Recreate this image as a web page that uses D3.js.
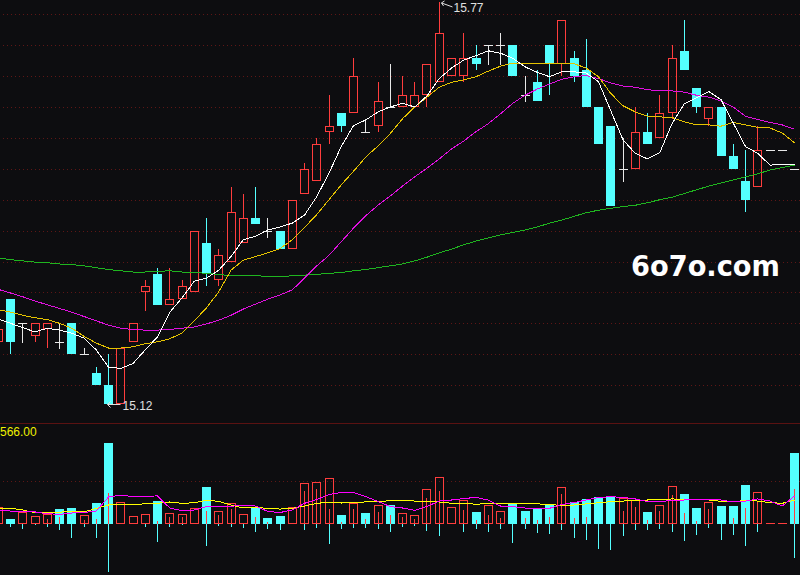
<!DOCTYPE html>
<html><head><meta charset="utf-8">
<script src="https://cdn.jsdelivr.net/npm/d3@7"></script>
<style>html,body{margin:0;padding:0;background:#0d0d10;overflow:hidden}</style>
</head><body><svg id="c" width="800" height="575"></svg>
<script>
// index 0 = partially visible candle at the left edge
const opens=[15.22,15.29,15.25,15.23,15.24,15.22,15.25,15.20,15.17,15.15,15.12,15.22,15.30,15.33,15.28,15.29,15.30,15.38,15.32,15.35,15.38,15.42,15.40,15.40,15.37,15.46,15.48,15.56,15.59,15.59,15.56,15.57,15.60,15.60,15.60,15.62,15.64,15.65,15.65,15.68,15.70,15.70,15.70,15.62,15.64,15.70,15.67,15.68,15.66,15.60,15.57,15.50,15.50,15.56,15.55,15.59,15.69,15.63,15.58,15.60,15.52,15.48,15.47,15.53,15.53,15.50];
const highs=[15.25,15.29,15.25,15.25,15.25,15.25,15.25,15.21,15.18,15.20,15.21,15.25,15.32,15.34,15.34,15.32,15.40,15.42,15.37,15.47,15.46,15.47,15.42,15.40,15.45,15.51,15.55,15.62,15.59,15.68,15.58,15.64,15.67,15.65,15.64,15.67,15.77,15.68,15.72,15.70,15.70,15.72,15.70,15.65,15.66,15.70,15.74,15.69,15.71,15.60,15.57,15.55,15.60,15.59,15.62,15.70,15.74,15.63,15.60,15.60,15.54,15.53,15.57,15.53,15.53,15.50];
const lows=[15.21,15.20,15.22,15.22,15.21,15.21,15.20,15.20,15.15,15.12,15.12,15.22,15.27,15.28,15.28,15.29,15.30,15.31,15.31,15.35,15.38,15.41,15.39,15.37,15.37,15.46,15.48,15.54,15.56,15.59,15.56,15.56,15.60,15.60,15.60,15.60,15.64,15.65,15.64,15.66,15.67,15.67,15.65,15.61,15.61,15.62,15.65,15.64,15.60,15.54,15.44,15.48,15.50,15.54,15.55,15.58,15.66,15.59,15.57,15.52,15.50,15.43,15.47,15.53,15.53,15.50];
const closes=[15.24,15.22,15.25,15.25,15.25,15.22,15.20,15.20,15.15,15.12,15.21,15.25,15.31,15.28,15.29,15.31,15.40,15.33,15.36,15.43,15.42,15.41,15.40,15.37,15.45,15.50,15.54,15.57,15.57,15.65,15.56,15.61,15.60,15.62,15.62,15.67,15.72,15.68,15.68,15.67,15.70,15.70,15.65,15.62,15.61,15.67,15.74,15.65,15.60,15.54,15.44,15.50,15.56,15.54,15.59,15.68,15.66,15.60,15.60,15.52,15.50,15.45,15.53,15.53,15.53,15.50];
const ma5=[15.257,15.250,15.243,15.236,15.242,15.239,15.234,15.226,15.207,15.179,15.177,15.185,15.207,15.228,15.268,15.291,15.318,15.323,15.336,15.358,15.385,15.391,15.401,15.406,15.412,15.425,15.455,15.493,15.536,15.570,15.579,15.592,15.600,15.606,15.600,15.618,15.646,15.663,15.676,15.683,15.691,15.687,15.679,15.665,15.656,15.649,15.657,15.657,15.655,15.641,15.594,15.547,15.525,15.516,15.526,15.573,15.605,15.615,15.625,15.612,15.574,15.536,15.525,15.506,15.507,15.507];
const ma10=[15.272,15.268,15.263,15.259,15.256,15.250,15.242,15.229,15.218,15.210,15.210,15.212,15.217,15.220,15.225,15.234,15.254,15.275,15.301,15.336,15.352,15.358,15.364,15.371,15.385,15.405,15.426,15.450,15.474,15.496,15.519,15.537,15.557,15.581,15.600,15.616,15.632,15.640,15.644,15.649,15.658,15.666,15.671,15.671,15.670,15.670,15.671,15.670,15.663,15.649,15.622,15.602,15.592,15.585,15.584,15.583,15.576,15.571,15.571,15.569,15.575,15.571,15.567,15.566,15.558,15.542];
const ma20=[15.305,15.299,15.293,15.286,15.280,15.274,15.268,15.261,15.254,15.247,15.242,15.240,15.239,15.239,15.240,15.242,15.244,15.249,15.255,15.263,15.273,15.281,15.289,15.296,15.304,15.323,15.343,15.360,15.382,15.404,15.424,15.441,15.456,15.472,15.487,15.501,15.516,15.532,15.545,15.560,15.573,15.589,15.606,15.619,15.629,15.637,15.645,15.649,15.651,15.646,15.639,15.634,15.632,15.628,15.626,15.626,15.624,15.619,15.616,15.610,15.600,15.585,15.580,15.575,15.571,15.564];
const ma60=[15.356,15.353,15.351,15.349,15.348,15.346,15.345,15.343,15.340,15.337,15.335,15.333,15.333,15.334,15.335,15.333,15.332,15.331,15.329,15.327,15.327,15.327,15.326,15.325,15.327,15.328,15.329,15.331,15.332,15.335,15.337,15.340,15.343,15.346,15.351,15.357,15.364,15.370,15.377,15.383,15.388,15.393,15.397,15.401,15.406,15.412,15.417,15.423,15.429,15.433,15.436,15.439,15.441,15.445,15.450,15.454,15.460,15.466,15.472,15.477,15.482,15.487,15.492,15.498,15.502,15.506];
const vols=[109,29,76,49,62,95,104,56,137,535,142,49,62,150,69,62,102,243,82,135,62,109,36,51,109,270,276,301,58,135,71,122,122,69,56,228,309,109,157,78,122,82,131,84,102,126,241,144,164,177,184,172,157,78,122,248,197,104,142,117,117,256,208,0,0,469];
const volUp=[0,0,0,0,29,46,0,25,31,205,0,0,0,18,46,42,0,84,58,97,0,42,11,0,0,217,230,100,11,97,31,78,58,42,31,170,217,0,91,25,58,38,0,38,25,44,197,40,44,0,0,84,109,25,84,188,71,16,97,0,38,104,144,0,0,230];
const volDown=[0,20,33,7,20,42,93,20,93,318,0,0,20,119,24,7,0,146,15,24,30,53,37,42,0,42,27,135,35,27,27,35,55,20,15,48,82,0,55,35,55,35,128,35,60,66,42,93,106,166,172,80,40,40,33,53,113,73,27,106,73,146,53,0,0,225];
const volMa5=[86,84,82,78,66,62,71,74,84,177,190,179,182,184,104,86,91,114,111,115,123,117,81,74,91,135,160,194,207,207,180,147,114,104,89,114,150,157,167,174,157,117,113,104,102,102,127,140,157,174,179,174,164,147,144,157,157,160,162,157,144,150,164,150,117,184];
const volMa10=[102,102,91,73,71,76,82,78,101,124,129,129,131,135,144,135,139,155,148,124,104,109,101,97,102,117,135,142,137,142,144,147,152,155,150,147,144,135,135,129,134,135,135,135,131,129,119,124,131,139,146,150,155,157,160,164,162,158,157,148,144,155,150,140,135,157];
const priceGrid=[15.15,15.20,15.25,15.30,15.35,15.40,15.45,15.50,15.55,15.60,15.65,15.70,15.75];
const volGrid=[283];
const volTopLabel="566.00";
const hiLabel="15.77", loLabel="15.12";
const watermark="6o7o.com";

const RED="#ff3d3d", CYAN="#54ffff", WHITE="#e8e8e8";
const svg=d3.select("#c");
svg.append("rect").attr("width",800).attr("height",575).attr("fill","#0d0d10");
const n=opens.length;
const x=d3.scaleLinear().domain([0,n-1]).range([-1.75,794.5]);
const y=d3.scaleLinear().domain([15.10,15.80]).range([416,-16.6]);
const yv=d3.scaleLinear().domain([0,566]).range([523.7,438.3]);
const R=Math.round;

// grids
const g=svg.append("g").attr("shape-rendering","crispEdges");
g.selectAll(".pg").data(priceGrid).join("line")
  .attr("x1",3).attr("x2",800).attr("y1",d=>R(y(d))+0.5).attr("y2",d=>R(y(d))+0.5)
  .attr("stroke","#5e1616").attr("stroke-dasharray","1,3");
g.selectAll(".vg").data(volGrid).join("line")
  .attr("x1",3).attr("x2",800).attr("y1",d=>R(yv(d))+0.5).attr("y2",d=>R(yv(d))+0.5)
  .attr("stroke","#5e1616").attr("stroke-dasharray","1,3");
g.append("line").attr("x1",0).attr("x2",800).attr("y1",423.5).attr("y2",423.5).attr("stroke","#5a1212");

// candles
const cg=svg.append("g").attr("shape-rendering","crispEdges");
for(let i=0;i<n;i++){
  const o=opens[i],c=closes[i],h=highs[i],l=lows[i];
  const left=R(x(i)-4.5), mid=left+4.5;
  const yh=R(y(h)), yl=R(y(l));
  if(c>o){
    const top=R(y(c)), bot=R(y(o));
    if(yh<top) cg.append("line").attr("x1",mid).attr("x2",mid).attr("y1",yh).attr("y2",top).attr("stroke",RED);
    if(yl>bot) cg.append("line").attr("x1",mid).attr("x2",mid).attr("y1",bot).attr("y2",yl).attr("stroke",RED);
    cg.append("rect").attr("x",left+0.5).attr("y",top+0.5).attr("width",8).attr("height",Math.max(0,bot-top-1))
      .attr("fill","none").attr("stroke",RED);
  } else if(c<o){
    const top=R(y(o)), bot=R(y(c));
    if(yl>yh) cg.append("line").attr("x1",mid).attr("x2",mid).attr("y1",yh).attr("y2",yl).attr("stroke",CYAN);
    cg.append("rect").attr("x",left).attr("y",top).attr("width",9).attr("height",Math.max(1,bot-top)).attr("fill",CYAN);
  } else {
    const yc=R(y(c))+0.5;
    if(yl>yh) cg.append("line").attr("x1",mid).attr("x2",mid).attr("y1",yh).attr("y2",yl+1).attr("stroke",WHITE);
    cg.append("line").attr("x1",left).attr("x2",left+9).attr("y1",yc).attr("y2",yc).attr("stroke",WHITE);
  }
}

// volume
const vg=svg.append("g").attr("shape-rendering","crispEdges");
const base=R(yv(0));
for(let i=0;i<n;i++){
  const o=opens[i],c=closes[i];
  let up = c>o ? true : c<o ? false : (i===0 ? true : c>=closes[i-1]);
  const left=R(x(i)-4.5), mid=left+4.5, v=vols[i];
  const top=R(yv(v));
  if(v===0){
    vg.append("line").attr("x1",left).attr("x2",left+9).attr("y1",base-0.5).attr("y2",base-0.5).attr("stroke",RED);
  } else if(up){
    vg.append("rect").attr("x",left+0.5).attr("y",top+0.5).attr("width",8).attr("height",base-top-1).attr("fill","none").attr("stroke",RED);
  } else {
    vg.append("rect").attr("x",left).attr("y",top).attr("width",9).attr("height",base-top).attr("fill",CYAN);
  }
  if(volUp[i]>0) vg.append("line").attr("x1",mid).attr("x2",mid).attr("y1",base).attr("y2",R(yv(volUp[i]))).attr("stroke",RED);
  if(volDown[i]>0) vg.append("line").attr("x1",mid).attr("x2",mid).attr("y1",base).attr("y2",R(yv(-volDown[i]))).attr("stroke",CYAN);
}

// moving averages
const lp=d3.line().x((d,i)=>x(i)).y(d=>y(d));
const lv=d3.line().x((d,i)=>x(i)).y(d=>yv(d));
const mg=svg.append("g").attr("fill","none").attr("stroke-width",1).attr("shape-rendering","crispEdges");
mg.append("path").attr("d",lp(ma60)).attr("stroke","#1fb41f");
mg.append("path").attr("d",lp(ma20)).attr("stroke","#e010e0");
mg.append("path").attr("d",lp(ma10)).attr("stroke","#e6c300");
mg.append("path").attr("d",lp(ma5)).attr("stroke","#ffffff");
mg.append("path").attr("d",lv(volMa10)).attr("stroke","#ffff00");
mg.append("path").attr("d",lv(volMa5)).attr("stroke","#ff00ff");

// high / low labels
const maxH=d3.max(highs), minL=d3.min(lows);
const hiIdx=highs.indexOf(maxH), loIdx=lows.indexOf(minL);
const hx=R(x(hiIdx)-4.5)+4.5, hy=y(maxH);
const ag=svg.append("g").attr("stroke","#e0e0e0").attr("fill","none");
ag.append("path").attr("d",`M${hx+2},${hy+1} L${hx+13},${hy+5} M${hx+2},${hy+1} L${hx+5},${hy-1} M${hx+2},${hy+1} L${hx+4},${hy+4}`);
svg.append("text").attr("x",hx+14).attr("y",hy+10.5).attr("fill","#e0e0e0")
  .attr("font-family","Liberation Sans, Arial, sans-serif").attr("font-size",12).text(hiLabel);
const lx=R(x(loIdx)-4.5)+4.5-1, ly=R(y(minL));
ag.append("path").attr("d",`M${lx},${ly+0.5} L${lx+13},${ly+0.5} M${lx},${ly+0.5} L${lx+3},${ly-2.5} M${lx},${ly+0.5} L${lx+3},${ly+3.5}`);
svg.append("text").attr("x",lx+15).attr("y",ly+5.5).attr("fill","#e0e0e0")
  .attr("font-family","Liberation Sans, Arial, sans-serif").attr("font-size",12).text(loLabel);
svg.append("text").attr("x",0).attr("y",436).attr("fill","#f0f000")
  .attr("font-family","Liberation Sans, Arial, sans-serif").attr("font-size",12).text(volTopLabel);
svg.append("text").attr("x",631).attr("y",276).attr("fill","#ffffff")
  .attr("font-family","DejaVu Sans, sans-serif").attr("font-weight","bold").attr("font-size",29)
  .attr("textLength",149).attr("lengthAdjust","spacingAndGlyphs").text(watermark);
</script></body></html>
